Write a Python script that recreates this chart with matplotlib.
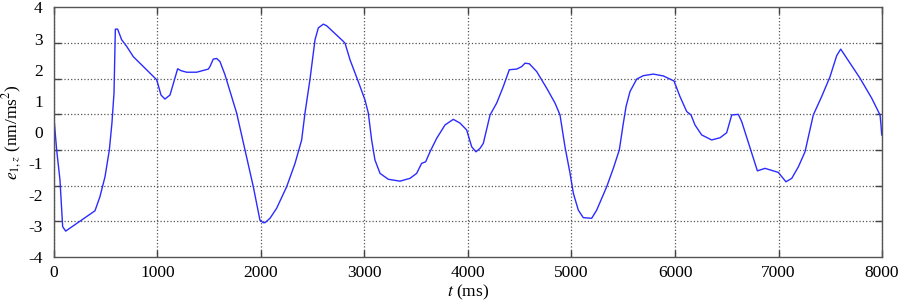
import numpy as np
import matplotlib.pyplot as plt

plt.rcParams['font.family'] = ['Liberation Serif', 'DejaVu Serif']
plt.rcParams['mathtext.fontset'] = 'stix'

# traced curve e_{1,z} (nm/ms^2) vs t (ms)
t = [0, 26, 58, 84, 113, 396, 444, 493, 535, 560, 580, 589, 593, 615, 654,
     702, 766, 992, 1002, 1034, 1072, 1121, 1195, 1227, 1282, 1378, 1491,
     1507, 1539, 1572, 1604, 1652, 1765, 1845, 1926, 1990, 2022, 2039, 2087,
     2151, 2248, 2329, 2393, 2425, 2473, 2522, 2554, 2602, 2634, 2795, 2812,
     2860, 2940, 3005, 3037, 3069, 3101, 3150, 3230, 3343, 3440, 3504, 3552,
     3591, 3633, 3697, 3778, 3858, 3923, 3987, 4036, 4077, 4116, 4148, 4213,
     4277, 4341, 4399, 4470, 4519, 4551, 4593, 4664, 4760, 4841, 4889, 4937,
     4986, 5018, 5066, 5114, 5195, 5243, 5340, 5404, 5462, 5501, 5527, 5565,
     5630, 5694, 5791, 5888, 5990, 6048, 6113, 6155, 6193, 6258, 6354, 6435,
     6499, 6548, 6612, 6644, 6796, 6870, 6998, 7072, 7128, 7192, 7256, 7304,
     7336, 7417, 7498, 7562, 7601, 7659, 7787, 7900, 7964, 7981, 7990, 7997]
e1z = [0.45, -0.57, -1.53, -3.03, -3.17, -2.52, -2.07, -1.43, -0.57, 0.29,
       1.25, 2.64, 3.30, 3.30, 2.96, 2.75, 2.42, 1.68, 1.57, 1.19, 1.06, 1.19,
       2.03, 1.97, 1.92, 1.92, 2.02, 2.10, 2.34, 2.36, 2.26, 1.84, 0.61, -0.57,
       -1.75, -2.82, -2.90, -2.90, -2.76, -2.44, -1.75, -1.00, -0.25, 0.61,
       1.68, 2.96, 3.34, 3.46, 3.41, 2.91, 2.85, 2.32, 1.62, 1.03, 0.61, -0.25,
       -0.89, -1.32, -1.51, -1.57, -1.48, -1.32, -1.00, -0.95, -0.63, -0.20,
       0.23, 0.41, 0.29, 0.07, -0.47, -0.63, -0.52, -0.36, 0.55, 0.93, 1.46,
       2.00, 2.02, 2.10, 2.21, 2.19, 1.94, 1.41, 0.93, 0.55, -0.47, -1.32,
       -1.96, -2.50, -2.74, -2.76, -2.50, -1.75, -1.16, -0.57, 0.29, 0.82,
       1.30, 1.70, 1.81, 1.86, 1.80, 1.64, 1.14, 0.66, 0.55, 0.23, -0.09,
       -0.25, -0.18, -0.02, 0.55, 0.57, 0.34, -1.24, -1.16, -1.29, -1.59,
       -1.48, -1.11, -0.63, 0.07, 0.55, 1.14, 1.78, 2.45, 2.66, 2.37, 1.73,
       1.09, 0.66, 0.55, 0.23, -0.09]

xticks = [0, 1000, 2000, 3000, 4000, 5000, 6000, 7000, 8000]
ylabels = [-4, -3, -2, -1, 0, 1, 2, 3, 4]

fig = plt.figure(figsize=(8.98, 3.04), dpi=100)
ax = fig.add_axes([0.0601, 0.1546, 0.9221, 0.8214])

ax.plot(t, e1z, color='#2b2bff', lw=1.0)

ax.set_xlim(0, 8000)
ax.set_ylim(-4, 4)
ax.set_xticks(xticks)
ax.set_xticklabels([str(v) for v in xticks])
ax.set_yticks(ylabels)
ax.set_yticklabels([str(v) for v in ylabels])
# grid lines / tick marks sit at seven equal divisions of the y range
ax.set_yticks(np.linspace(-4, 4, 8)[1:-1], minor=True)

ax.grid(True, which='major', axis='x', ls=':', color='#555555', lw=0.9)
ax.grid(True, which='minor', axis='y', ls=':', color='#555555', lw=0.9)

ax.tick_params(axis='x', which='major', direction='in', top=True, length=5,
               width=1, color='#444444', labelsize=12.5, pad=6)
ax.tick_params(axis='y', which='major', length=0, labelsize=12.5, pad=8)
ax.tick_params(axis='y', which='minor', direction='in', right=True, length=5,
               width=1, color='#444444')
for s in ax.spines.values():
    s.set_color('#555555')
    s.set_linewidth(1.0)

ax.set_xlabel('$t$ (ms)', fontsize=12.5, labelpad=1)
ax.set_ylabel('$e_{1,z}$ (nm/ms$^2$)', fontsize=12.5, labelpad=3)

fig.savefig('out.png', dpi=100)
